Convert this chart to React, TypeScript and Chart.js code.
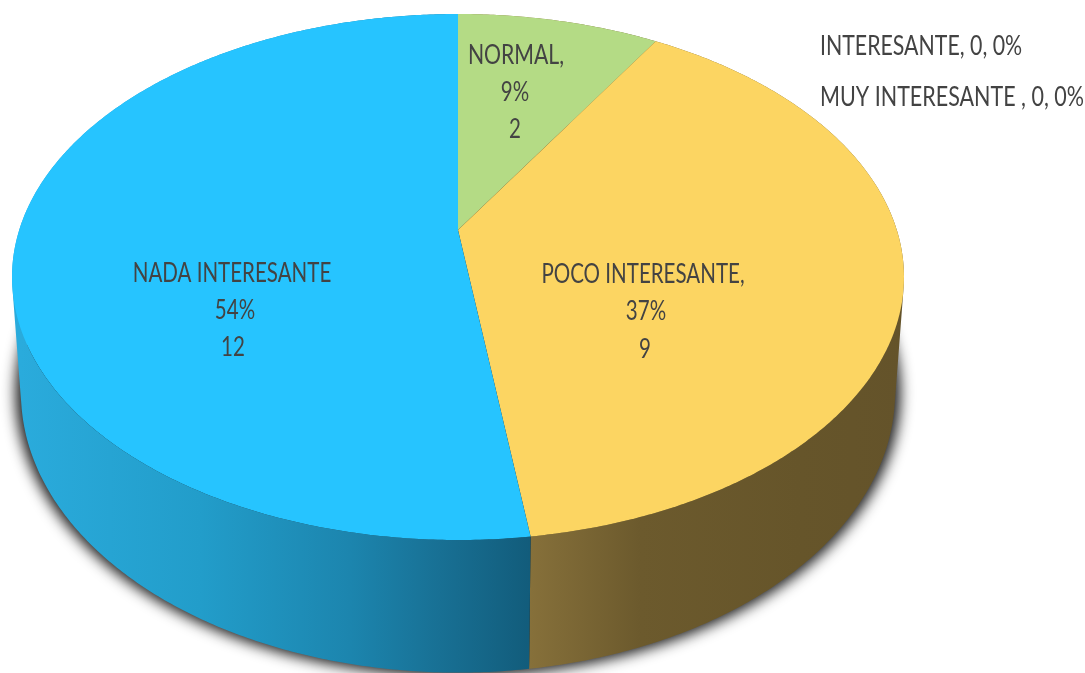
import React, { useEffect, useRef } from "react";
import { Chart, registerables } from "chart.js";

Chart.register(...registerables);

const categories = ["NORMAL", "POCO INTERESANTE", "NADA INTERESANTE", "INTERESANTE", "MUY INTERESANTE"];
const counts = [2, 9, 12, 0, 0];
const percentLabels = ["9%", "37%", "54%", "0%", "0%"];
const topColors = ["#b4db85", "#fcd562", "#26c4ff", "#4472c4", "#70ad47"];

const K = 0.1787;
const TOP = { cx: 458, cy: 230, a: 438.8, b: 254.6 };
const BASE = { cx: 458, cy: 342.6, a: 430, b: 271 };
const TEXT_COLOR = "#434343";
const FONT = '26px Lato';

function project(p: typeof TOP, theta: number): [number, number] {
  const u = Math.sin(theta);
  const w = -Math.cos(theta);
  const d = 1 - K * w;
  return [p.cx + (p.a * u) / d, p.cy + (p.b * w) / d];
}

function sideGradient(ctx: CanvasRenderingContext2D, index: number) {
  const g = ctx.createLinearGradient(0, 0, 1085, 0);
  const stop = (x: number, c: string) => g.addColorStop(x / 1085, c);
  if (index === 2) {
    stop(20, "#2aabdc");
    stop(200, "#229dca");
    stop(350, "#1c85ae");
    stop(440, "#187094");
    stop(530, "#125c7b");
  } else {
    stop(530, "#86703a");
    stop(640, "#6c5a2d");
    stop(800, "#66552a");
    stop(905, "#64532a");
  }
  return g;
}

const pie3dPlugin = {
  id: "pie3d",
  beforeDatasetDraw(chart: any) {
    const ctx: CanvasRenderingContext2D = chart.ctx;
    const arcs = chart.getDatasetMeta(0).data;
    const STEP = Math.PI / 360;

    // soft shadow under the base: the caster sits off-canvas so only its blur shows
    const OFF = 3000;
    ctx.save();
    ctx.shadowColor = "rgba(0,0,0,0.9)";
    ctx.shadowBlur = 14;
    ctx.shadowOffsetX = OFF;
    ctx.fillStyle = "#000";
    ctx.beginPath();
    for (let t = 0; t < Math.PI * 2; t += STEP) {
      const [x, y] = project(BASE, t);
      const nx = 458 + (x - 458) * 1.012 - OFF;
      const ny = 392 + (y - 392) * 1.012;
      t === 0 ? ctx.moveTo(nx, ny) : ctx.lineTo(nx, ny);
    }
    ctx.closePath();
    ctx.fill();
    ctx.restore();

    // extruded walls
    arcs.forEach((arc: any, i: number) => {
      if (counts[i] === 0) return;
      const s = arc.startAngle + Math.PI / 2;
      const e = arc.endAngle + Math.PI / 2;
      ctx.beginPath();
      for (let t = s; t < e; t += STEP) {
        const n = Math.min(t + STEP, e);
        const q = [project(TOP, t), project(TOP, n), project(BASE, n), project(BASE, t)];
        let area = 0;
        q.forEach((pt, j) => {
          const nx = q[(j + 1) % 4];
          area += pt[0] * nx[1] - nx[0] * pt[1];
        });
        const poly = area >= 0 ? q : [...q].reverse();
        ctx.moveTo(poly[0][0], poly[0][1]);
        poly.slice(1).forEach((pt) => ctx.lineTo(pt[0], pt[1]));
        ctx.closePath();
      }
      ctx.fillStyle = sideGradient(ctx, i);
      ctx.fill("nonzero");
    });

    // top face
    arcs.forEach((arc: any, i: number) => {
      if (counts[i] === 0) return;
      const s = arc.startAngle + Math.PI / 2;
      const e = arc.endAngle + Math.PI / 2;
      ctx.beginPath();
      ctx.moveTo(TOP.cx, TOP.cy);
      for (let t = s; t < e; t += STEP) {
        const [x, y] = project(TOP, t);
        ctx.lineTo(x, y);
      }
      const [ex, ey] = project(TOP, e);
      ctx.lineTo(ex, ey);
      ctx.closePath();
      ctx.fillStyle = topColors[i];
      ctx.fill();
    });
    return false;
  },
  afterDraw(chart: any) {
    const ctx: CanvasRenderingContext2D = chart.ctx;
    const put = (text: string, x: number, y: number, align: CanvasTextAlign, sx = 0.79) => {
      ctx.save();
      ctx.translate(x, y);
      ctx.scale(sx, 1);
      ctx.textAlign = align;
      ctx.textBaseline = "middle";
      ctx.font = FONT;
      ctx.fillStyle = TEXT_COLOR;
      ctx.fillText(text, 0, 0);
      ctx.restore();
    };
    put(`${categories[0]},`, 516, 56, "center", 0.815);
    put(percentLabels[0], 515, 93, "center");
    put(String(counts[0]), 515, 130, "center");
    put(`${categories[1]},`, 643, 275, "center");
    put(percentLabels[1], 646, 312, "center");
    put(String(counts[1]), 645, 350, "center");
    put(categories[2], 232, 274, "center");
    put(percentLabels[2], 235, 311, "center");
    put(String(counts[2]), 233, 348, "center");
    put(`${categories[3]}, ${counts[3]}, ${percentLabels[3]}`, 820, 47, "left", 0.82);
    put(`${categories[4]} , ${counts[4]}, ${percentLabels[4]}`, 820, 98, "left", 0.827);
  },
};

export default function App() {
  const ref = useRef<HTMLCanvasElement>(null);
  useEffect(() => {
    document.body.style.margin = "0";
    const chart = new Chart(ref.current!, {
      type: "pie",
      data: {
        labels: categories,
        datasets: [{ data: counts, backgroundColor: topColors, borderWidth: 0 }],
      },
      options: {
        animation: false,
        responsive: false,
        devicePixelRatio: 1,
        plugins: { legend: { display: false }, tooltip: { enabled: false } },
      },
      plugins: [pie3dPlugin],
    } as any);
    return () => chart.destroy();
  }, []);
  return <canvas ref={ref} width={1085} height={673} style={{ display: "block" }} />;
}
